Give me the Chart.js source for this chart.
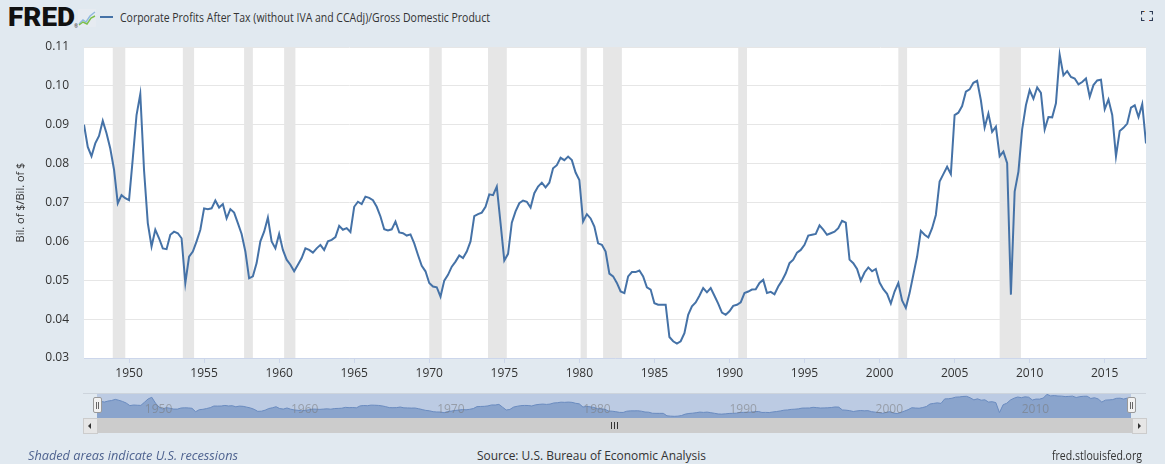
<!DOCTYPE html>
<html>
<head>
<meta charset="utf-8">
<title>CP/GDP</title>
<script src="https://cdn.jsdelivr.net/npm/chart.js@4.4.1/dist/chart.umd.min.js"></script>
<style>
  html, body { margin: 0; padding: 0; }
  body {
    width: 1165px; height: 464px; overflow: hidden; position: relative;
    background: #e1e9f0; font-family: 'Open Sans', sans-serif; color: #333;
  }
  .abs { position: absolute; }
  .fit { display: inline-block; white-space: nowrap; transform-origin: 0 50%; }
  #logo { left: 8px; top: 3px; font-family: Roboto, sans-serif; font-weight: 900; font-size: 25px; color: #111; line-height: 30px; }
  #reg { left: 74px; top: 23px; font-size: 5px; color: #333; }
  #legendLine { left: 100px; top: 16px; width: 13px; height: 2px; background: #4572a7; }
  #title { left: 120px; top: 8px; font-size: 13px; line-height: 19px; color: #333; }
  #main { left: 0; top: 0; }
  #navTop { left: 83px; top: 393px; width: 1063px; height: 1px; background: #cdd4dc; }
  #navMask { left: 97px; top: 394px; width: 1034px; height: 24px; background: #bccbe3; }
  #nav { left: 97px; top: 393px; }
  .handle { top: 397px; width: 7px; height: 14px; background: #f2f2f2; border: 1px solid #999; border-radius: 2px; }
  .handle::before, .handle::after { content: ''; position: absolute; top: 4px; width: 1px; height: 7px; background: #666; }
  .handle::before { left: 2px; } .handle::after { left: 4px; }
  #scroll { left: 83px; top: 418px; width: 1063px; height: 15px; background: #cccccc; }
  .btn { top: 418px; width: 13px; height: 14px; background: #e6e6e6; border: 1px solid #cccccc; }
  .arrL { left: 4px; top: 4px; width: 0; height: 0; border-top: 3px solid transparent; border-bottom: 3px solid transparent; border-right: 3px solid #333; }
  .arrR { left: 5px; top: 4px; width: 0; height: 0; border-top: 3px solid transparent; border-bottom: 3px solid transparent; border-left: 3px solid #333; }
  .grip { top: 422px; width: 1px; height: 7px; background: #333; }
  .foot { top: 446px; font-size: 13px; line-height: 18px; }
  #shaded { left: 28px; font-style: italic; color: #4f6390; }
  #source { left: 477px; color: #333; }
  #site { left: 1052px; color: #333; }
</style>
</head>
<body>
<div id="logo" class="abs fit">FRED</div>
<div id="reg" class="abs">&reg;</div>
<svg class="abs" style="left:78px;top:9px" width="18" height="18" viewBox="0 0 18 18">
  <rect x="0" y="0" width="18" height="18" rx="1" fill="#e6ebf1"/>
  <polyline points="1,15 5,11 8,13 12,7 17,3" fill="none" stroke="#8fb8de" stroke-width="1.4"/>
  <polyline points="1,16 5,13 9,15 13,9 17,7" fill="none" stroke="#7cbf4a" stroke-width="1.4"/>
</svg>
<div id="legendLine" class="abs"></div>
<div id="title" class="abs fit">Corporate Profits After Tax (without IVA and CCAdj)/Gross Domestic Product</div>
<svg class="abs" style="left:1141px;top:11px" width="12" height="10" viewBox="0 0 12 10">
  <path d="M0.5 3.5 V0.5 H3.5 M8.5 0.5 H11.5 V3.5 M11.5 6.5 V9.5 H8.5 M3.5 9.5 H0.5 V6.5" fill="none" stroke="#2d3b55" stroke-width="1.2"/>
  <rect x="3" y="0" width="1" height="1" fill="#e08a2c"/><rect x="8" y="9" width="1" height="1" fill="#c0392b"/>
</svg>

<canvas id="main" class="abs" width="1165" height="390"></canvas>

<div id="navTop" class="abs"></div>
<div id="navMask" class="abs"></div>
<canvas id="nav" class="abs" width="1034" height="25"></canvas>
<div class="abs handle" style="left:93px"></div>
<div class="abs handle" style="left:1127px"></div>
<div id="scroll" class="abs"></div>
<div class="abs btn" style="left:83px"><div class="abs arrL"></div></div>
<div class="abs btn" style="left:1132px"><div class="abs arrR"></div></div>
<div class="abs grip" style="left:611px"></div>
<div class="abs grip" style="left:614px"></div>
<div class="abs grip" style="left:617px"></div>

<div id="shaded" class="abs foot fit">Shaded areas indicate U.S. recessions</div>
<div id="source" class="abs foot fit">Source: U.S. Bureau of Economic Analysis</div>
<div id="site" class="abs foot fit">fred.stlouisfed.org</div>

<script>
// Quarterly series, 1947 Q1 .. 2017 Q4
const startYear = 1947;
const cpToGdp = [
  0.0900, 0.0843, 0.0819, 0.0852,  0.0871, 0.0910, 0.0878, 0.0839,  // 1947-48
  0.0785, 0.0698, 0.0719, 0.0711,  0.0706, 0.0813, 0.0925, 0.0979,  // 1949-50
  0.0783, 0.0647, 0.0587, 0.0630,  0.0608, 0.0582, 0.0580, 0.0617,  // 1951-52
  0.0625, 0.0621, 0.0608, 0.0493,  0.0561, 0.0574, 0.0600, 0.0630,  // 1953-54
  0.0685, 0.0683, 0.0685, 0.0705,  0.0687, 0.0696, 0.0659, 0.0683,  // 1955-56
  0.0674, 0.0647, 0.0619, 0.0574,  0.0505, 0.0510, 0.0544, 0.0600,  // 1957-58
  0.0625, 0.0661, 0.0600, 0.0582,  0.0619, 0.0578, 0.0553, 0.0540,  // 1959-60
  0.0523, 0.0540, 0.0557, 0.0582,  0.0578, 0.0571, 0.0582, 0.0591,  // 1961-62
  0.0578, 0.0600, 0.0604, 0.0611,  0.0640, 0.0630, 0.0634, 0.0624,  // 1963-64
  0.0689, 0.0702, 0.0696, 0.0715,  0.0712, 0.0706, 0.0689, 0.0664,  // 1965-66
  0.0631, 0.0628, 0.0631, 0.0651,  0.0623, 0.0621, 0.0615, 0.0618,  // 1967-68
  0.0595, 0.0565, 0.0537, 0.0523,  0.0493, 0.0484, 0.0482, 0.0458,  // 1969-70
  0.0499, 0.0514, 0.0535, 0.0548,  0.0564, 0.0557, 0.0574, 0.0600,  // 1971-72
  0.0665, 0.0670, 0.0674, 0.0689,  0.0721, 0.0719, 0.0741, 0.0647,  // 1973-74
  0.0551, 0.0568, 0.0648, 0.0677,  0.0698, 0.0705, 0.0702, 0.0687,  // 1975-76
  0.0724, 0.0741, 0.0751, 0.0739,  0.0751, 0.0788, 0.0796, 0.0815,  // 1977-78
  0.0809, 0.0818, 0.0809, 0.0777,  0.0758, 0.0651, 0.0670, 0.0659,  // 1979-80
  0.0638, 0.0595, 0.0591, 0.0574,  0.0517, 0.0510, 0.0493, 0.0471,  // 1981-82
  0.0467, 0.0510, 0.0521, 0.0521,  0.0525, 0.0510, 0.0482, 0.0476,  // 1983-84
  0.0441, 0.0437, 0.0437, 0.0437,  0.0354, 0.0343, 0.0337, 0.0343,  // 1985-86
  0.0364, 0.0411, 0.0433, 0.0443,  0.0460, 0.0480, 0.0469, 0.0480,  // 1987-88
  0.0460, 0.0440, 0.0417, 0.0411,  0.0420, 0.0434, 0.0437, 0.0443,  // 1989-90
  0.0467, 0.0471, 0.0476, 0.0477,  0.0493, 0.0501, 0.0467, 0.0470,  // 1991-92
  0.0464, 0.0484, 0.0499, 0.0518,  0.0544, 0.0553, 0.0571, 0.0578,  // 1993-94
  0.0591, 0.0615, 0.0617, 0.0619,  0.0641, 0.0630, 0.0617, 0.0621,  // 1995-96
  0.0625, 0.0634, 0.0653, 0.0648,  0.0553, 0.0544, 0.0529, 0.0499,  // 1997-98
  0.0520, 0.0533, 0.0523, 0.0529,  0.0494, 0.0477, 0.0465, 0.0440,  // 1999-00
  0.0471, 0.0493, 0.0448, 0.0429,  0.0467, 0.0514, 0.0561, 0.0627,  // 2001-02
  0.0617, 0.0610, 0.0634, 0.0668,  0.0754, 0.0773, 0.0792, 0.0773,  // 2003-04
  0.0925, 0.0931, 0.0948, 0.0985,  0.0991, 0.1008, 0.1013, 0.0963,  // 2005-06
  0.0893, 0.0929, 0.0882, 0.0895,  0.0819, 0.0831, 0.0801, 0.0463,  // 2007-08
  0.0728, 0.0779, 0.0888, 0.0950,  0.0989, 0.0967, 0.0996, 0.0982,  // 2009-10
  0.0888, 0.0920, 0.0919, 0.0955,  0.1080, 0.1027, 0.1038, 0.1023,  // 2011-12
  0.1019, 0.1004, 0.1010, 0.1019,  0.0972, 0.1002, 0.1014, 0.1016,  // 2013-14
  0.0940, 0.0965, 0.0925, 0.0819,  0.0884, 0.0892, 0.0903, 0.0944,  // 2015-16
  0.0950, 0.0920, 0.0953, 0.0852                                     // 2017
];

// NBER recessions (first and last recession month, as decimal years)
const recessions = [
  [1948 + 11/12, 1949 + 9/12], [1953 + 7/12, 1954 + 4/12], [1957 + 8/12, 1958 + 3/12],
  [1960 + 4/12, 1961 + 1/12], [1970, 1970 + 10/12], [1973 + 11/12, 1975 + 2/12],
  [1980 + 1/12, 1980 + 6/12], [1981 + 7/12, 1982 + 10/12], [1990 + 7/12, 1991 + 2/12],
  [2001 + 3/12, 2001 + 10/12], [2008, 2009 + 5/12]
];

const xTicks = [1950, 1955, 1960, 1965, 1970, 1975, 1980, 1985, 1990, 1995, 2000, 2005, 2010, 2015];
const yTicks = [0.03, 0.04, 0.05, 0.06, 0.07, 0.08, 0.09, 0.10, 0.11];
const navTicks = [1950, 1960, 1970, 1980, 1990, 2000, 2010];

const quarters = cpToGdp.map((_, i) => startYear + i / 4);
const points = cpToGdp.map((v, i) => ({ x: quarters[i], y: v }));
const xMin = quarters[0];
const xMax = quarters[quarters.length - 1];

// stretch/squeeze text to the width it has in the reference
function fitText(id, width) {
  const el = document.getElementById(id);
  const w = el.getBoundingClientRect().width;
  el.style.transform = 'scaleX(' + (width / w) + ')';
}
fitText('logo', 67);
fitText('title', 370);
fitText('shaded', 210);
fitText('source', 229);
fitText('site', 90);

const plotBackground = {
  id: 'plotBackground',
  beforeDraw(chart) {
    const { ctx, chartArea: a } = chart;
    ctx.save();
    ctx.fillStyle = '#ffffff';
    ctx.fillRect(a.left, a.top, a.right - a.left, a.bottom - a.top);
    ctx.restore();
  }
};

const recessionBands = {
  id: 'recessionBands',
  beforeDatasetsDraw(chart) {
    const { ctx, chartArea: a, scales: { x } } = chart;
    ctx.save();
    ctx.fillStyle = '#e6e6e6';
    recessions.forEach(([s, e]) => {
      const x0 = x.getPixelForValue(s);
      const x1 = x.getPixelForValue(e);
      ctx.fillRect(x0, a.top, x1 - x0, a.bottom - a.top);
    });
    ctx.restore();
  }
};

const navLabels = {
  id: 'navLabels',
  afterDatasetsDraw(chart) {
    const { ctx, scales: { x } } = chart;
    ctx.save();
    ctx.font = '12px "Open Sans"';
    ctx.fillStyle = 'rgba(120, 120, 120, 0.55)';
    ctx.textBaseline = 'middle';
    navTicks.forEach(v => ctx.fillText(String(v), x.getPixelForValue(v) + 4, 17));
    ctx.restore();
  }
};

const tickFont = { family: "'Open Sans', sans-serif", size: 12 };

new Chart(document.getElementById('main'), {
  type: 'line',
  data: {
    datasets: [{
      data: points,
      borderColor: '#4572a7',
      borderWidth: 2,
      pointRadius: 0,
      fill: false,
      tension: 0
    }]
  },
  options: {
    responsive: false,
    animation: false,
    layout: { padding: { top: 47, right: 19, left: 0, bottom: 0 } },
    plugins: { legend: { display: false }, tooltip: { enabled: false } },
    scales: {
      x: {
        type: 'linear',
        min: xMin,
        max: xMax,
        afterBuildTicks: s => { s.ticks = xTicks.map(v => ({ value: v })); },
        afterFit: s => { s.height = 32; },
        grid: { drawOnChartArea: false, drawTicks: true, tickLength: 5, color: '#ccd6eb' },
        border: { display: true, color: '#ccd6eb' },
        ticks: { padding: 3, color: '#333', font: tickFont, maxRotation: 0, autoSkip: false, callback: v => String(v) }
      },
      y: {
        min: 0.03,
        max: 0.11,
        afterBuildTicks: s => { s.ticks = yTicks.map(v => ({ value: v })); },
        afterFit: s => { s.width = 84; },
        grid: { color: '#e6e6e6', drawTicks: false },
        border: { display: false },
        ticks: { padding: 15, color: '#333', font: tickFont, callback: v => v.toFixed(2) },
        title: {
          display: true,
          text: 'Bil. of $/Bil. of $',
          color: '#333',
          font: { family: "'Open Sans', sans-serif", size: 11 },
          padding: { top: 14 }
        }
      }
    }
  },
  plugins: [plotBackground, recessionBands]
});

// navigator strip under the chart
new Chart(document.getElementById('nav'), {
  type: 'line',
  data: {
    datasets: [{
      data: points,
      borderColor: '#6a8bbf',
      borderWidth: 1,
      backgroundColor: '#8aa4cc',
      fill: 'start',
      pointRadius: 0,
      tension: 0
    }]
  },
  options: {
    responsive: false,
    animation: false,
    layout: { padding: 0 },
    plugins: { legend: { display: false }, tooltip: { enabled: false } },
    scales: {
      x: { type: 'linear', display: false, min: xMin, max: xMax },
      y: { display: false, min: 0.028, max: 0.1125 }
    }
  },
  plugins: [navLabels]
});
</script>
</body>
</html>
